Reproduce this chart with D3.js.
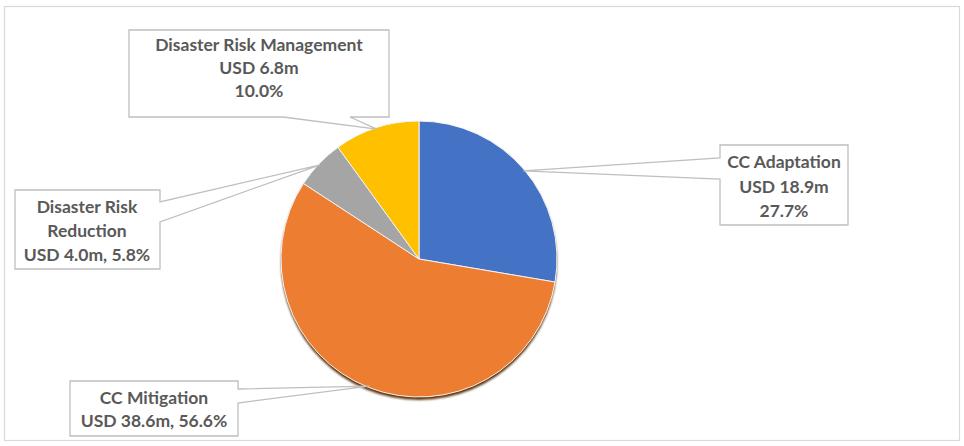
<!DOCTYPE html>
<html><head><meta charset="utf-8">
<script src="https://cdn.jsdelivr.net/npm/d3@7"></script>
<style>html,body{margin:0;padding:0;background:#fff;}svg{display:block;}</style>
</head><body>
<svg id="c" width="964" height="446"></svg>
<script>
// ---- data ----
const categories = ["CC Adaptation", "CC Mitigation", "Disaster Risk Reduction", "Disaster Risk Management"];
const amountsUSDm = [18.9, 38.6, 4.0, 6.8];
const percents = [27.7, 56.6, 5.8, 10.0];
const colors = ["#4472C4", "#ED7D31", "#A5A5A5", "#FFC000"];

// ---- label text (built from the data) ----
const fmt1 = d3.format(".1f");
const labelLines = [
  [categories[0], `USD ${fmt1(amountsUSDm[0])}m`, `${fmt1(percents[0])}%`],
  [categories[1], `USD ${fmt1(amountsUSDm[1])}m, ${fmt1(percents[1])}%`],
  ["Disaster Risk", "Reduction", `USD ${fmt1(amountsUSDm[2])}m, ${fmt1(percents[2])}%`],
  [categories[3], `USD ${fmt1(amountsUSDm[3])}m`, `${fmt1(percents[3])}%`]
];

// ---- layout ----
const cx = 419, cy = 259, R = 138;
const boxes = [
  {x0: 720, y0: 145, x1: 848, y1: 225, side: "left",   b: [158, 179], tx: 784, ty: [168, 193, 217]},
  {x0: 70,  y0: 381, x1: 238, y1: 436, side: "right",  b: [389, 403], tx: 154, ty: [404, 427]},
  {x0: 15,  y0: 190, x1: 160, y1: 269, side: "right",  b: [202, 222], tx: 87,  ty: [213, 237, 261]},
  {x0: 129, y0: 30,  x1: 389, y1: 117, side: "bottom", b: [283, 350], tx: 259, ty: [51, 74, 97]}
];

const svg = d3.select("#c");
const defs = svg.append("defs");
defs.append("filter").attr("id", "blur").append("feGaussianBlur").attr("stdDeviation", 1);

// chart frame
svg.append("rect").attr("x", 4.5).attr("y", 6.5).attr("width", 955).attr("height", 434)
  .attr("fill", "#fff").attr("stroke", "#d9d9d9").attr("stroke-width", 1.2);

const pie = d3.pie().value(d => d).sort(null);
const arcs = pie(percents);
const arc = d3.arc().innerRadius(0).outerRadius(R);

const g = svg.append("g").attr("transform", `translate(${cx},${cy})`);
// shadow
g.append("circle").attr("cx", 0).attr("cy", 3).attr("r", R).attr("fill", "#5e3511").attr("filter", "url(#blur)");
g.selectAll("path.slice").data(arcs).join("path").attr("class", "slice")
  .attr("d", arc).attr("fill", (d, i) => colors[i])
  .attr("stroke", "#f4f4f4").attr("stroke-width", 1);

// callouts
function tipPoint(d) {
  const a = (d.startAngle + d.endAngle) / 2;
  return [cx + R * 0.99 * Math.sin(a), cy - R * 0.99 * Math.cos(a)];
}
function calloutPath(bx, tip) {
  const {x0, y0, x1, y1, side, b} = bx;
  const [tx, ty] = tip;
  const p = d3.path();
  if (side === "left") {
    p.moveTo(x0, y0); p.lineTo(x1, y0); p.lineTo(x1, y1); p.lineTo(x0, y1);
    p.lineTo(x0, b[1]); p.lineTo(tx, ty); p.lineTo(x0, b[0]); p.closePath();
  } else if (side === "right") {
    p.moveTo(x0, y0); p.lineTo(x1, y0); p.lineTo(x1, b[0]); p.lineTo(tx, ty); p.lineTo(x1, b[1]);
    p.lineTo(x1, y1); p.lineTo(x0, y1); p.closePath();
  } else {
    p.moveTo(x0, y0); p.lineTo(x1, y0); p.lineTo(x1, y1); p.lineTo(b[1], y1); p.lineTo(tx, ty);
    p.lineTo(b[0], y1); p.lineTo(x0, y1); p.closePath();
  }
  return p.toString();
}
const lg = svg.append("g");
arcs.forEach((d, i) => {
  const bx = boxes[i];
  lg.append("path").attr("d", calloutPath(bx, tipPoint(d)))
    .attr("fill", "none").attr("stroke", "#bfbfbf").attr("stroke-width", 1.3)
    .attr("stroke-linejoin", "miter");
  lg.append("rect").attr("x", bx.x0 + 1).attr("y", bx.y0 + 1)
    .attr("width", bx.x1 - bx.x0 - 2).attr("height", bx.y1 - bx.y0 - 2).attr("fill", "#fff");
  labelLines[i].forEach((t, j) => {
    lg.append("text").attr("x", bx.tx).attr("y", bx.ty[j]).attr("text-anchor", "middle")
      .attr("font-family", "Lato, 'Open Sans', sans-serif").attr("font-weight", "bold")
      .attr("font-size", 17.5).attr("fill", "#595959").text(t);
  });
});
</script>
</body></html>
